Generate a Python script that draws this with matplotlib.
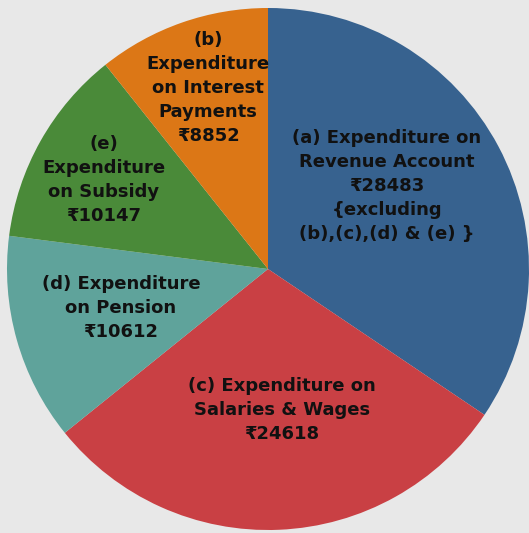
import matplotlib
matplotlib.use("Agg")
import matplotlib.pyplot as plt

labels = ["(a) Expenditure on\nRevenue Account\n₹28483\n{excluding\n(b),(c),(d) & (e) }",
          "(c) Expenditure on\nSalaries & Wages\n₹24618",
          "(d) Expenditure\non Pension\n₹10612",
          "(e)\nExpenditure\non Subsidy\n₹10147",
          "(b)\nExpenditure\non Interest\nPayments\n₹8852"]
values = [28483, 24618, 10612, 10147, 8852]
colors = ["#37628f", "#c94044", "#5fa39b", "#4a8a39", "#dc7716"]

W, H = 529, 533
fig = plt.figure(figsize=(W / 100, H / 100), dpi=100)
fig.patch.set_facecolor("#e8e8e8")
ax = fig.add_axes([0, 0, 1, 1])
ax.set_facecolor("#e8e8e8")

cx, cy, r = 268, 269, 261
# y axis inverted -> counterclock=True in data coords appears clockwise on screen
wedges, _ = ax.pie(values, colors=colors, startangle=-90, counterclock=True,
                   center=(cx, cy), radius=r, frame=True,
                   wedgeprops=dict(linewidth=0))
ax.set_xlim(0, W)
ax.set_ylim(H, 0)
ax.set_aspect("equal")
ax.axis("off")

label_pos = [(387, 186), (282, 410), (121, 308), (104, 180), (208, 88)]
for lab, (x, y) in zip(labels, label_pos):
    ax.text(x, y, lab, ha="center", va="center", fontsize=13,
            fontweight="bold", color="#111111", linespacing=1.42,
            family=["DejaVu Sans", "Noto Sans"])

fig.savefig("out.png", dpi=100, facecolor=fig.get_facecolor())
